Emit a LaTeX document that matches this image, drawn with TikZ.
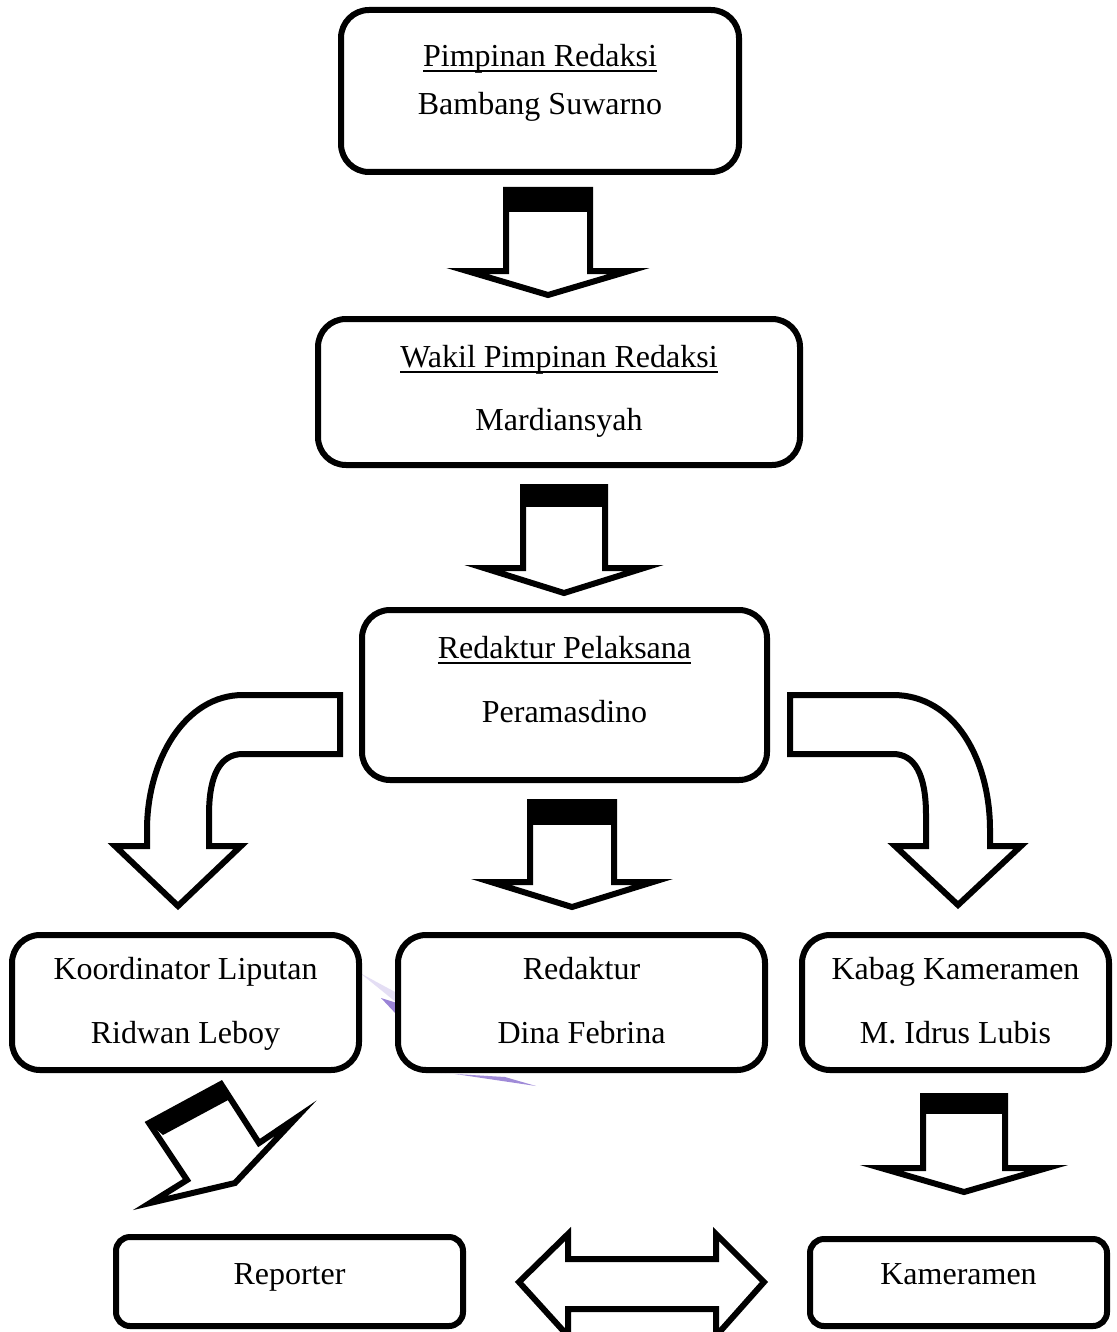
\documentclass[tikz,border=0pt]{standalone}
\usepackage{fontspec}
\setmainfont{Liberation Serif}
\newcommand\ulinetext[1]{\setbox0=\hbox{#1}\rlap{\rule[-5.5pt]{\wd0}{2pt}}\box0}
\newcommand\downblock[7]{%
  \draw[blockarrow] ({#1-#2},#3) -- ({#1+#2},#3) -- ({#1+#2},#5) -- ({#1+#6},#5) -- (#1,#7) -- ({#1-#6},#5) -- ({#1-#2},#5) -- cycle;
  \fill ({#1-#2},#3) rectangle ({#1+#2},#4);}
\definecolor{smudge}{RGB}{120,90,200}
\tikzset{
  box/.style={draw, line width=6pt, rounded corners=28pt, fill=white, inner sep=0pt},
  smallbox/.style={box, rounded corners=14pt},
  lbl/.style={anchor=base, inner sep=0pt, font=\fontsize{32}{38}\selectfont},
  blockarrow/.style={draw, line width=6pt, fill=white, line join=miter, miter limit=10},
}
\begin{document}
\begin{tikzpicture}[x=1pt,y=-1pt]
\useasboundingbox (0,0) rectangle (1116,1332);
% faint smudges
\fill[smudge, opacity=0.75] (381,998) -- (397,1003) -- (397,1015) -- cycle;
\fill[smudge!40, opacity=0.5] (360,973) -- (397,993) -- (397,1003) -- cycle;
\fill[smudge, opacity=0.7] (455,1074) -- (536,1086) -- (505,1077) -- cycle;
\fill[smudge!30, opacity=0.5] (420,1072) -- (505,1077) -- (455,1074) -- cycle;
% boxes
\node[box, minimum width=398pt, minimum height=162pt] (pimred) at (540,91) {};
\node[box, minimum width=482pt, minimum height=146pt] (wakil) at (559,392) {};
\node[box, minimum width=405pt, minimum height=170pt] (redpel) at (564.5,695) {};
\node[box, minimum width=347pt, minimum height=135pt] (koor) at (185.5,1002.5) {};
\node[box, minimum width=367pt, minimum height=135pt] (redak) at (581.5,1002.5) {};
\node[box, minimum width=307pt, minimum height=135pt] (kabag) at (955.5,1002.5) {};
\node[smallbox, minimum width=347pt, minimum height=89pt] (rep) at (289.5,1281.5) {};
\node[smallbox, minimum width=297pt, minimum height=87pt] (kam) at (958.5,1282.5) {};
% texts
\node[lbl] (pimredA) at (540,67) {\ulinetext{Pimpinan Redaksi}};
\node[lbl] (pimredB) at (540,115) {Bambang Suwarno};
\node[lbl] (wakilA) at (559,367) {\ulinetext{Wakil Pimpinan Redaksi}};
\node[lbl] (wakilB) at (559,430) {Mardiansyah};
\node[lbl] (redpelA) at (564.5,658) {\ulinetext{Redaktur Pelaksana}};
\node[lbl] (redpelB) at (564.5,722) {Peramasdino};
\node[lbl] (koorA) at (185.5,979) {Koordinator Liputan};
\node[lbl] (koorB) at (185.5,1043) {Ridwan Leboy};
\node[lbl] (redakA) at (581.5,979) {Redaktur};
\node[lbl] (redakB) at (581.5,1043) {Dina Febrina};
\node[lbl] (kabagA) at (955.5,979) {Kabag Kameramen};
\node[lbl] (kabagB) at (955.5,1043) {M. Idrus Lubis};
\node[lbl] (repT) at (289.5,1284) {Reporter};
\node[lbl] (kamT) at (958.5,1284) {Kameramen};
% straight block arrows
\downblock{548}{42}{190}{212}{271}{81}{295}
\downblock{564}{41}{487}{507}{568}{80}{593}
\downblock{572}{42}{802}{825}{882}{81}{907}
\downblock{964}{41}{1096}{1114}{1168}{83}{1192}
% curved arrows
\draw[blockarrow] (340,695) -- (243,695) .. controls (185,695) and (147,760) .. (147,830) -- (147,846) -- (115,846) -- (178,906) -- (241,846) -- (209,846) -- (209,815) .. controls (209,775) and (220,754) .. (243,754) -- (340,754) -- cycle;
\draw[blockarrow] (790,695) -- (893,695) .. controls (955,695) and (990,760) .. (990,830) -- (990,846) -- (1021,846) -- (958,905) -- (895,846) -- (926,846) -- (926,815) .. controls (926,775) and (915,754) .. (893,754) -- (790,754) -- cycle;
% tilted arrow
\draw[blockarrow] (149,1123) -- (221,1084) -- (259,1143) -- (296,1118) -- (235,1183) -- (150,1203) -- (187,1180) -- cycle;
\fill (149,1123) -- (221,1084) -- (230,1099) -- (163,1135) -- cycle;
% double arrow
\draw[blockarrow] (519,1282) -- (568,1234) -- (568,1259) -- (716,1259) -- (716,1234) -- (764,1282) -- (716,1336) -- (716,1309) -- (568,1309) -- (568,1336) -- cycle;
\end{tikzpicture}
\end{document}
